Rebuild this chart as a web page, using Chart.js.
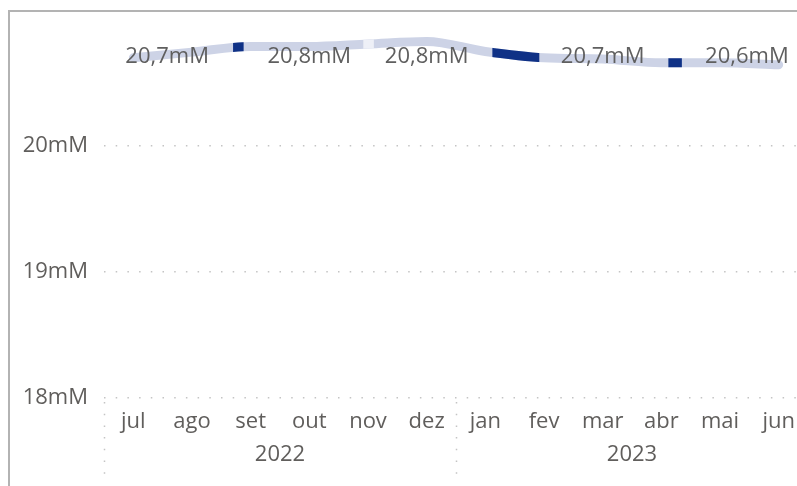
<!DOCTYPE html>
<html>
<head>
<meta charset="utf-8">
<script src="https://cdn.jsdelivr.net/npm/chart.js@4.4.1/dist/chart.umd.min.js"></script>
<style>
    html, body { margin: 0; padding: 0; background: #fff; overflow: hidden; width: 797px; height: 486px; }
    #frame {
        position: absolute; left: 8px; top: 10px;
        border-left: 2px solid #b3b3b3; border-top: 2px solid #b3b3b3;
        width: 800px; height: 474px;
    }
    #frame canvas { display: block; }
</style>
</head>
<body>
<div id="frame"><canvas id="lineChart" width="800" height="474"></canvas></div>
<script>
'use strict';

const months = ['jul', 'ago', 'set', 'out', 'nov', 'dez', 'jan', 'fev', 'mar', 'abr', 'mai', 'jun'];
const years = ['2022', '2023'];
const monthsPerYear = [6, 6];
const values = [20.70, 20.745, 20.79, 20.79, 20.81, 20.83, 20.75, 20.70, 20.69, 20.66, 20.66, 20.645];
const yTicks = [18, 19, 20];
const labelIndexes = [0, 3, 5, 8, 11];
// stretches of the line shown in other colours, in category units
const darkStretches = [[1.70, 1.88], [6.12, 6.92], [9.12, 9.35]];
const paleStretches = [[3.92, 4.10]];

const FONT = '"Segoe UI", "Open Sans", sans-serif';
const TEXT = '#605e5c';
const GRID = '#c4c4c4';

function fmtLabel(v) {
    return v.toFixed(1).replace('.', ',') + 'mM';
}

// clip a dataset to the listed stretches of the x axis
const stretchClip = {
    id: 'stretchClip',
    beforeDatasetDraw(chart, args) {
        const stretches = chart.data.datasets[args.index].stretches;
        if (!stretches) return;
        const x = chart.scales.x;
        const area = chart.chartArea;
        const ctx = chart.ctx;
        ctx.save();
        ctx.beginPath();
        stretches.forEach(s => {
            const a = x.getPixelForValue(s[0]);
            const b = x.getPixelForValue(s[1]);
            ctx.rect(a, area.top - 20, b - a, area.bottom - area.top + 40);
        });
        ctx.clip();
    },
    afterDatasetDraw(chart, args) {
        if (chart.data.datasets[args.index].stretches) chart.ctx.restore();
    }
};

const extras = {
    id: 'extras',
    afterDraw(chart) {
        const ctx = chart.ctx;
        const x = chart.scales.x;
        const area = chart.chartArea;
        const step = x.getPixelForValue(1) - x.getPixelForValue(0);

        // year group separators
        ctx.save();
        ctx.strokeStyle = GRID;
        ctx.lineWidth = 1.5;
        ctx.setLineDash([1.5, 10.2]);
        let start = 0;
        const bounds = [start];
        monthsPerYear.forEach(n => { start += n; bounds.push(start); });
        bounds.forEach(b => {
            const px = Math.round(x.getPixelForValue(b) - step / 2) + 0.5;
            ctx.beginPath();
            ctx.moveTo(px, area.bottom + 4);
            ctx.lineTo(px, area.bottom + 82);
            ctx.stroke();
        });
        ctx.restore();

        // year labels
        ctx.save();
        ctx.font = '22px ' + FONT;
        ctx.fillStyle = TEXT;
        ctx.textAlign = 'center';
        ctx.textBaseline = 'middle';
        years.forEach((yr, i) => {
            const a = x.getPixelForValue(bounds[i]);
            const b = x.getPixelForValue(bounds[i + 1] - 1);
            ctx.fillText(yr, (a + b) / 2, area.bottom + 57);
        });

        // data labels
        const meta = chart.getDatasetMeta(0);
        ctx.fillStyle = '#5f5f5f';
        labelIndexes.forEach((idx, k) => {
            const pt = meta.data[idx];
            let px = pt.x;
            ctx.textAlign = 'center';
            if (k === 0) { ctx.textAlign = 'left'; px -= 8; }
            if (k === labelIndexes.length - 1) { ctx.textAlign = 'right'; px += 10; }
            ctx.fillText(fmtLabel(values[idx]), px, area.top + 37);
        });
        ctx.restore();
    }
};

const lineBase = {
    data: values,
    borderWidth: 9,
    borderCapStyle: 'round',
    borderJoinStyle: 'round',
    cubicInterpolationMode: 'monotone',
    pointRadius: 0,
    pointHoverRadius: 0,
    fill: false
};

new Chart(document.getElementById('lineChart'), {
    type: 'line',
    data: {
        labels: months,
        datasets: [
            Object.assign({}, lineBase, { label: 'valor', borderColor: '#cdd3e6', order: 2 }),
            Object.assign({}, lineBase, { label: 'destaque', borderColor: '#0f3186', borderCapStyle: 'butt', stretches: darkStretches, order: 1 }),
            Object.assign({}, lineBase, { label: 'claro', borderColor: '#eef0f7', borderCapStyle: 'butt', stretches: paleStretches, order: 1 })
        ]
    },
    options: {
        responsive: false,
        animation: false,
        layout: { padding: { top: 8, right: 2, left: 0, bottom: 0 } },
        plugins: {
            legend: { display: false },
            tooltip: { enabled: false }
        },
        scales: {
            x: {
                offset: true,
                grid: { display: false, drawTicks: false },
                border: { display: false },
                ticks: { color: TEXT, font: { family: FONT, size: 22 }, padding: 11, maxRotation: 0, autoSkip: false },
                afterFit(scale) { scale.height = 88; scale.paddingLeft = 0; scale.paddingRight = 0; }
            },
            y: {
                min: 18,
                max: 21,
                afterBuildTicks(scale) { scale.ticks = yTicks.map(v => ({ value: v })); },
                grid: { color: GRID, lineWidth: 1.5, drawTicks: false },
                border: { display: false, dash: [1.5, 10.2] },
                ticks: {
                    color: TEXT,
                    font: { family: FONT, size: 22 },
                    padding: 16,
                    callback: v => v + 'mM'
                },
                afterFit(scale) { scale.width = 94; scale.paddingTop = 0; scale.paddingBottom = 0; }
            }
        }
    },
    plugins: [stretchClip, extras]
});
</script>
</body>
</html>
